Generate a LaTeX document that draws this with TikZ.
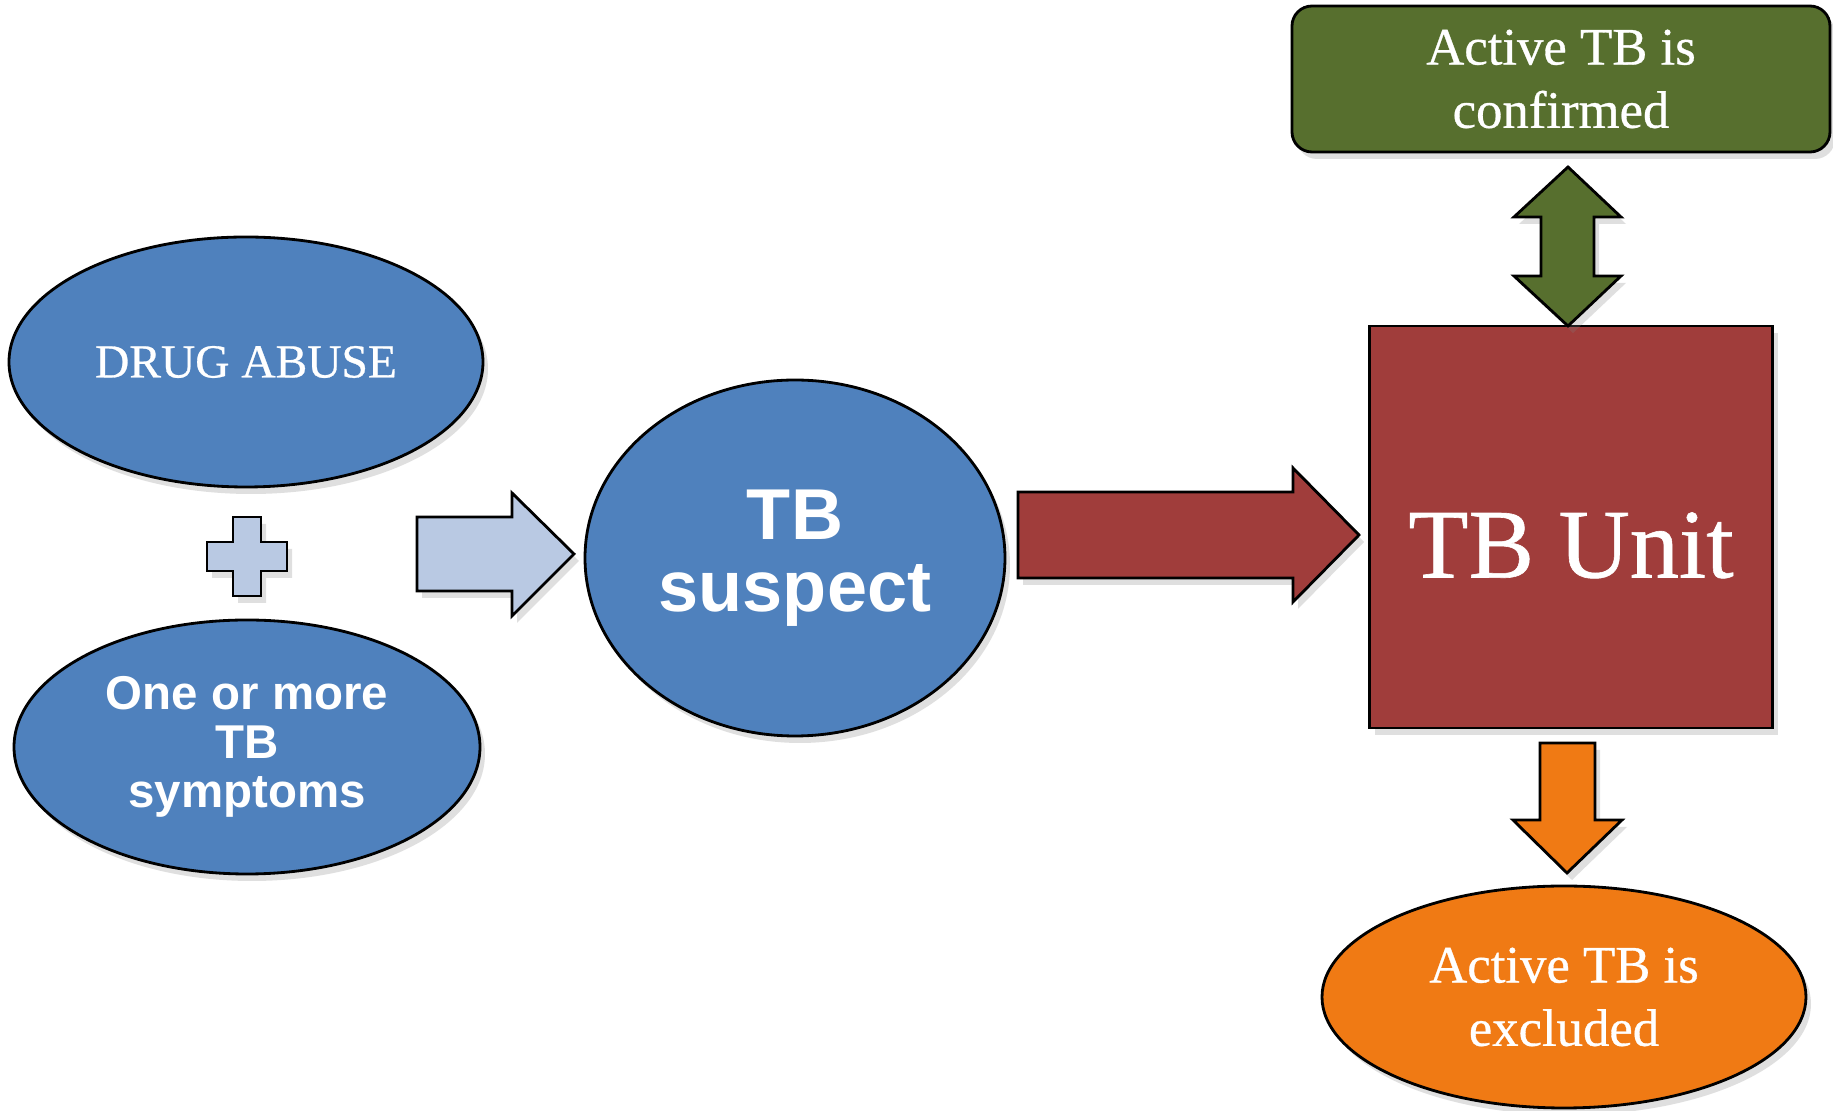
\documentclass[tikz,border=0pt]{standalone}
\usepackage{fontspec}
\setmainfont{Liberation Serif}
\setsansfont{Liberation Sans}
\newfontfamily\heavyserif{Liberation Serif}[FakeBold=0.6]
\definecolor{TBblue}{RGB}{79,129,189}
\definecolor{TBlight}{RGB}{185,201,227}
\definecolor{TBred}{RGB}{160,61,59}
\definecolor{TBgreen}{RGB}{87,111,46}
\definecolor{TBorange}{RGB}{240,122,20}
\usetikzlibrary{shapes.geometric,shadows}

\begin{document}
\begin{tikzpicture}[x=0.1mm,y=-0.1mm,
    box/.style={draw=black,line width=0.8pt,inner sep=0pt,text=white,align=center,
                drop shadow={opacity=0.25,shadow xshift=0.5mm,shadow yshift=-0.7mm}},
    blockarrow/.style={draw=black,line width=0.8pt,line join=miter,
                drop shadow={opacity=0.25,shadow xshift=0.5mm,shadow yshift=-0.7mm}}]
            \path[fill=white,use as bounding box] (0,0) rectangle (1833,1111);

            % left side: the two conditions
            \node[box,ellipse,fill=TBblue,minimum width=47.4mm,minimum height=25mm,
                  font=\heavyserif\fontsize{13.5}{16}\selectfont] (drug) at (246,362) {DRUG ABUSE};
            \node[box,ellipse,fill=TBblue,minimum width=46.6mm,minimum height=25.4mm,
                  font=\sffamily\bfseries\fontsize{13.5}{14}\selectfont] (symptoms) at (247,747) {One or more\\TB\\symptoms};
            \draw[blockarrow,fill=TBlight] (233,517) -- (261,517) -- (261,542) -- (287,542) -- (287,571)
                  -- (261,571) -- (261,596) -- (233,596) -- (233,571) -- (207,571) -- (207,542) -- (233,542) -- cycle;

            \node[box,ellipse,fill=TBblue,minimum width=42mm,minimum height=35.6mm,
                  font=\sffamily\bfseries\fontsize{20.5}{20.5}\selectfont] (suspect) at (795,558) {TB\\suspect};
            \draw[blockarrow,fill=TBlight] (417,517) -- (512,517) -- (512,493) -- (574,554)
                  -- (512,616) -- (512,591) -- (417,591) -- cycle;

            % right side: the unit and its outcomes
            \node[box,rectangle,fill=TBred,minimum width=40.3mm,minimum height=40.2mm,text height=29pt,
                  font=\heavyserif\fontsize{28}{30}\selectfont] (unit) at (1571,527) {TB Unit};
            \draw[blockarrow,fill=TBred] (1018,492) -- (1293,492) -- (1293,468) -- (1359,535)
                  -- (1293,602) -- (1293,578) -- (1018,578) -- cycle;

            \node[box,rectangle,rounded corners=2mm,fill=TBgreen,minimum width=53.8mm,minimum height=14.6mm,
                  font=\heavyserif\fontsize{15}{18}\selectfont] (confirmed) at (1561,79) {Active TB is\\confirmed};
            \draw[blockarrow,fill=TBgreen] (1568,167) -- (1621,217) -- (1594,217) -- (1594,276) -- (1621,276)
                  -- (1568,326) -- (1514,276) -- (1541,276) -- (1541,217) -- (1514,217) -- cycle;

            \node[box,ellipse,fill=TBorange,minimum width=48.4mm,minimum height=22.2mm,
                  font=\heavyserif\fontsize{15}{18}\selectfont] (excluded) at (1564,997) {Active TB is\\excluded};
            \draw[blockarrow,fill=TBorange] (1540,743) -- (1595,743) -- (1595,820) -- (1622,820)
                  -- (1567,873) -- (1513,820) -- (1540,820) -- cycle;
        \end{tikzpicture}
\end{document}
